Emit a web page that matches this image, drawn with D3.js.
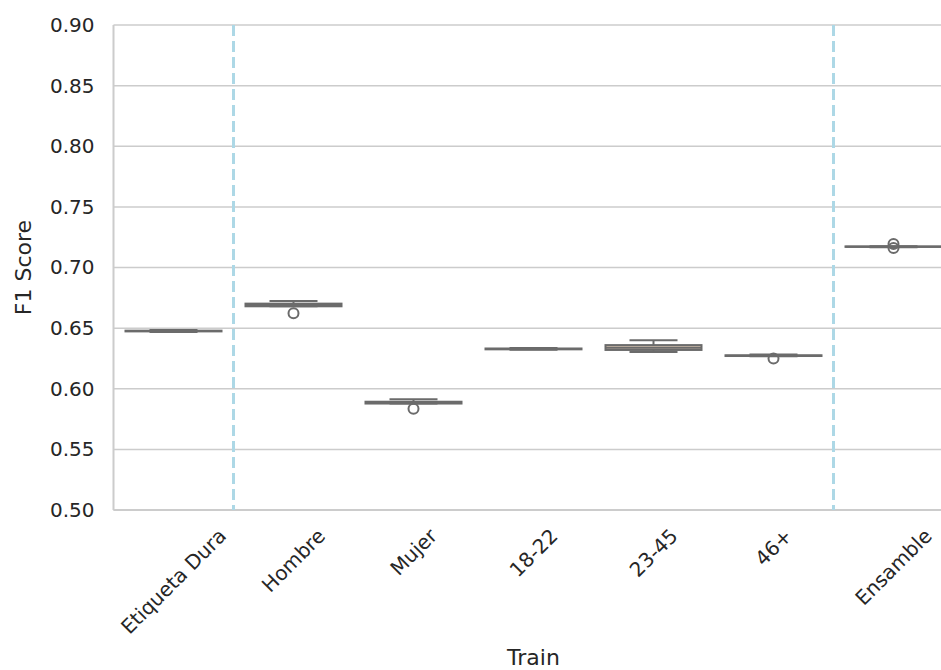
<!DOCTYPE html>
<html>
<head>
<meta charset="utf-8">
<script src="https://cdn.jsdelivr.net/npm/d3@7"></script>
<style>
html, body { margin: 0; padding: 0; background: #fff; }
svg { display: block; }
text { font-family: "DejaVu Sans", sans-serif; fill: #262626; }
</style>
</head>
<body>
<svg id="chart" width="941" height="670"></svg>
<script>
// ---- data ----
const categories = ["Etiqueta Dura", "Hombre", "Mujer", "18-22", "23-45", "46+", "Ensamble"];
const whiskerLow  = [0.6468, 0.6680, 0.5878, 0.6321, 0.6303, 0.6268, 0.7168];
const q1          = [0.6473, 0.6680, 0.5878, 0.6325, 0.6320, 0.6270, 0.7170];
const median      = [0.6476, 0.6690, 0.5885, 0.6328, 0.6338, 0.6273, 0.7172];
const q3          = [0.6479, 0.6702, 0.5893, 0.6332, 0.6360, 0.6276, 0.7174];
const whiskerHigh = [0.6484, 0.6724, 0.5913, 0.6336, 0.6400, 0.6283, 0.7176];
const outliers    = [[], [0.6622], [0.5835], [], [], [0.6250], [0.7194, 0.7161]];
const boxColors   = ["#9aa7bd", "#93b493", "#c4a0a0", "#aaa0c0", "#d9c5b2", "#d3a9c3", "#a8a8a8"];
const yTicks      = [0.50, 0.55, 0.60, 0.65, 0.70, 0.75, 0.80, 0.85, 0.90];
const separators  = [0.5, 5.5]; // positions between categories (in category index units)
const xLabel = "Train";
const yLabel = "F1 Score";

// ---- layout ----
const svg = d3.select("#chart");
const pL = 113.5, pR = 953.5, pT = 25, pB = 510;
const tickFont = 20, labelFont = 22;

const x = d3.scaleBand().domain(categories).range([pL, pR]).paddingInner(0).paddingOuter(0);
const xi = d3.scaleLinear().domain([-0.5, categories.length - 0.5]).range([pL, pR]);
const y = d3.scaleLinear().domain([0.50, 0.90]).range([pB, pT]);

// grid
svg.append("g").selectAll("line").data(yTicks).join("line")
  .attr("x1", pL).attr("x2", pR)
  .attr("y1", d => y(d)).attr("y2", d => y(d))
  .attr("stroke", "#cccccc").attr("stroke-width", 1.5);

// spines
svg.append("line").attr("x1", pL).attr("x2", pL).attr("y1", pT).attr("y2", pB)
  .attr("stroke", "#cccccc").attr("stroke-width", 2);
svg.append("line").attr("x1", pL).attr("x2", pR).attr("y1", pB).attr("y2", pB)
  .attr("stroke", "#cccccc").attr("stroke-width", 2);

// y axis
const yAxis = d3.axisLeft(y).tickValues(yTicks).tickFormat(d3.format(".2f")).tickSize(0).tickPadding(19);
const gy = svg.append("g").attr("transform", `translate(${pL},0)`).call(yAxis);
gy.select(".domain").remove();
gy.selectAll("text").style("font-size", tickFont + "px").attr("fill", "#262626");

// separators
svg.append("g").selectAll("line").data(separators).join("line")
  .attr("x1", d => xi(d)).attr("x2", d => xi(d))
  .attr("y1", pT).attr("y2", pB)
  .attr("stroke", "#add8e6").attr("stroke-width", 3).attr("stroke-dasharray", "11,5");

// boxes
const bw = x.bandwidth() * 0.8, cw = x.bandwidth() * 0.4;
const edge = "#6b6b6b", lw = 2;
const g = svg.append("g");
categories.forEach((c, i) => {
  const cx = x(c) + x.bandwidth() / 2;
  const gg = g.append("g");
  gg.append("line").attr("x1", cx).attr("x2", cx).attr("y1", y(q3[i])).attr("y2", y(whiskerHigh[i]))
    .attr("stroke", edge).attr("stroke-width", lw);
  gg.append("line").attr("x1", cx).attr("x2", cx).attr("y1", y(q1[i])).attr("y2", y(whiskerLow[i]))
    .attr("stroke", edge).attr("stroke-width", lw);
  [whiskerLow[i], whiskerHigh[i]].forEach(v => {
    gg.append("line").attr("x1", cx - cw / 2).attr("x2", cx + cw / 2).attr("y1", y(v)).attr("y2", y(v))
      .attr("stroke", edge).attr("stroke-width", lw);
  });
  gg.append("rect").attr("x", cx - bw / 2).attr("width", bw)
    .attr("y", y(q3[i])).attr("height", Math.max(0.01, y(q1[i]) - y(q3[i])))
    .attr("fill", boxColors[i]).attr("stroke", edge).attr("stroke-width", lw);
  gg.append("line").attr("x1", cx - bw / 2).attr("x2", cx + bw / 2).attr("y1", y(median[i])).attr("y2", y(median[i]))
    .attr("stroke", edge).attr("stroke-width", lw);
  gg.selectAll("circle").data(outliers[i]).join("circle")
    .attr("cx", cx).attr("cy", d => y(d)).attr("r", 5)
    .attr("fill", "none").attr("stroke", edge).attr("stroke-width", lw);
});

// x tick labels, rotated 45deg, centred on tick (matplotlib ha=center)
const labTop = 524;
const xl = svg.append("g");
categories.forEach((c, i) => {
  const cx = x(c) + x.bandwidth() / 2;
  const t = xl.append("text").text(c).style("font-size", tickFont + "px")
    .attr("text-anchor", "middle").attr("dominant-baseline", "central");
  const L = t.node().getComputedTextLength();
  const H = tickFont * 1.164;
  const bh = (L + H) * Math.SQRT1_2;
  t.attr("transform", `translate(${cx},${labTop + bh / 2}) rotate(-45)`);
});

// axis labels
svg.append("text").text(xLabel).attr("x", (pL + pR) / 2).attr("y", 665)
  .attr("text-anchor", "middle").style("font-size", labelFont + "px");
svg.append("text").text(yLabel)
  .attr("transform", `translate(31,${(pT + pB) / 2}) rotate(-90)`)
  .attr("text-anchor", "middle").style("font-size", labelFont + "px");
</script>
</body>
</html>
